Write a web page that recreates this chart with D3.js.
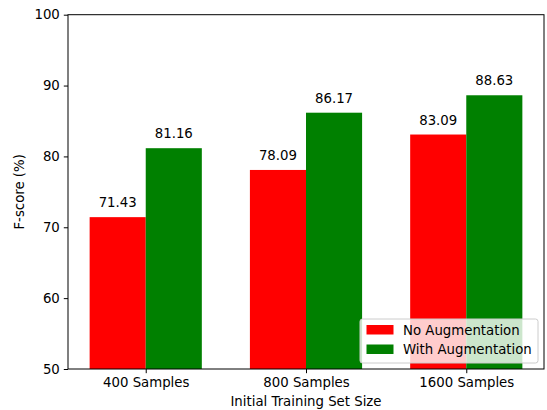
<!DOCTYPE html>
<html>
<head>
<meta charset="utf-8">
<script src="https://cdn.jsdelivr.net/npm/d3@7"></script>
<style>
  body { margin: 0; background: #fff; }
  text { font-family: "DejaVu Sans", sans-serif; fill: #000; }
</style>
</head>
<body>
<div id="chart"></div>
<script>
// values
const categories = ["400 Samples", "800 Samples", "1600 Samples"];
const noAug = [71.43, 78.09, 83.09];
const withAug = [81.16, 86.17, 88.63];
const seriesNames = ["No Augmentation", "With Augmentation"];
const seriesColors = ["#ff0000", "#008000"];
const yTicks = [50, 60, 70, 80, 90, 100];

const width = 547, height = 410;
const margin = { top: 14.7, right: 3, bottom: 41, left: 68 };
const fs = "13.3px";

const svg = d3.select("#chart")
  .append("svg")
  .attr("width", width)
  .attr("height", height);

const x = d3.scaleLinear()
  .domain([-0.485, 2.485])
  .range([margin.left, width - margin.right]);

const y = d3.scaleLinear()
  .domain([50, 100])
  .range([height - margin.bottom, margin.top]);

const barW = 0.35;
const series = [noAug, withAug];

// bars
series.forEach((vals, s) => {
  const off = s === 0 ? -barW / 2 : barW / 2;
  svg.append("g")
    .selectAll("rect")
    .data(vals)
    .join("rect")
    .attr("x", (d, i) => x(i + off - barW / 2))
    .attr("width", x(barW) - x(0))
    .attr("y", d => y(d))
    .attr("height", d => y(50) - y(d))
    .attr("fill", seriesColors[s]);

  svg.append("g")
    .selectAll("text")
    .data(vals)
    .join("text")
    .attr("x", (d, i) => x(i + off))
    .attr("y", d => y(d) - 10)
    .attr("text-anchor", "middle")
    .style("font-size", fs)
    .text(d => d.toFixed(2));
});

// axes
const xAxis = d3.axisBottom(x)
  .tickValues([0, 1, 2])
  .tickFormat(i => categories[i])
  .tickSize(4.2)
  .tickPadding(4);
const yAxis = d3.axisLeft(y)
  .tickValues(yTicks)
  .tickSize(4.2)
  .tickPadding(4);

const gx = svg.append("g")
  .attr("transform", `translate(0,${height - margin.bottom})`)
  .call(xAxis);
const gy = svg.append("g")
  .attr("transform", `translate(${margin.left},0)`)
  .call(yAxis);
[gx, gy].forEach(g => {
  g.select(".domain").remove();
  g.selectAll("text").style("font-size", fs).attr("fill", "#000");
  g.selectAll("line").attr("stroke", "#000").attr("stroke-width", 1);
});

// frame
svg.append("rect")
  .attr("x", margin.left)
  .attr("y", margin.top)
  .attr("width", width - margin.right - margin.left)
  .attr("height", height - margin.bottom - margin.top)
  .attr("fill", "none")
  .attr("stroke", "#000")
  .attr("stroke-width", 1);

// axis titles
svg.append("text")
  .attr("x", (margin.left + width - margin.right) / 2)
  .attr("y", 406)
  .attr("text-anchor", "middle")
  .style("font-size", fs)
  .text("Initial Training Set Size");

svg.append("text")
  .attr("transform", `translate(24,${(margin.top + height - margin.bottom) / 2}) rotate(-90)`)
  .attr("text-anchor", "middle")
  .style("font-size", fs)
  .text("F-score (%)");

// legend
const lg = svg.append("g").attr("transform", "translate(360,319)");
lg.append("rect")
  .attr("width", 178)
  .attr("height", 44)
  .attr("rx", 2.5)
  .attr("fill", "#fff")
  .attr("fill-opacity", 0.8)
  .attr("stroke", "#ccc");
seriesNames.forEach((name, i) => {
  lg.append("rect")
    .attr("x", 6.5)
    .attr("y", 6 + i * 19.5)
    .attr("width", 27)
    .attr("height", 9.5)
    .attr("fill", seriesColors[i]);
  lg.append("text")
    .attr("x", 43)
    .attr("y", 15.5 + i * 19.5)
    .style("font-size", fs)
    .text(name);
});
</script>
</body>
</html>
